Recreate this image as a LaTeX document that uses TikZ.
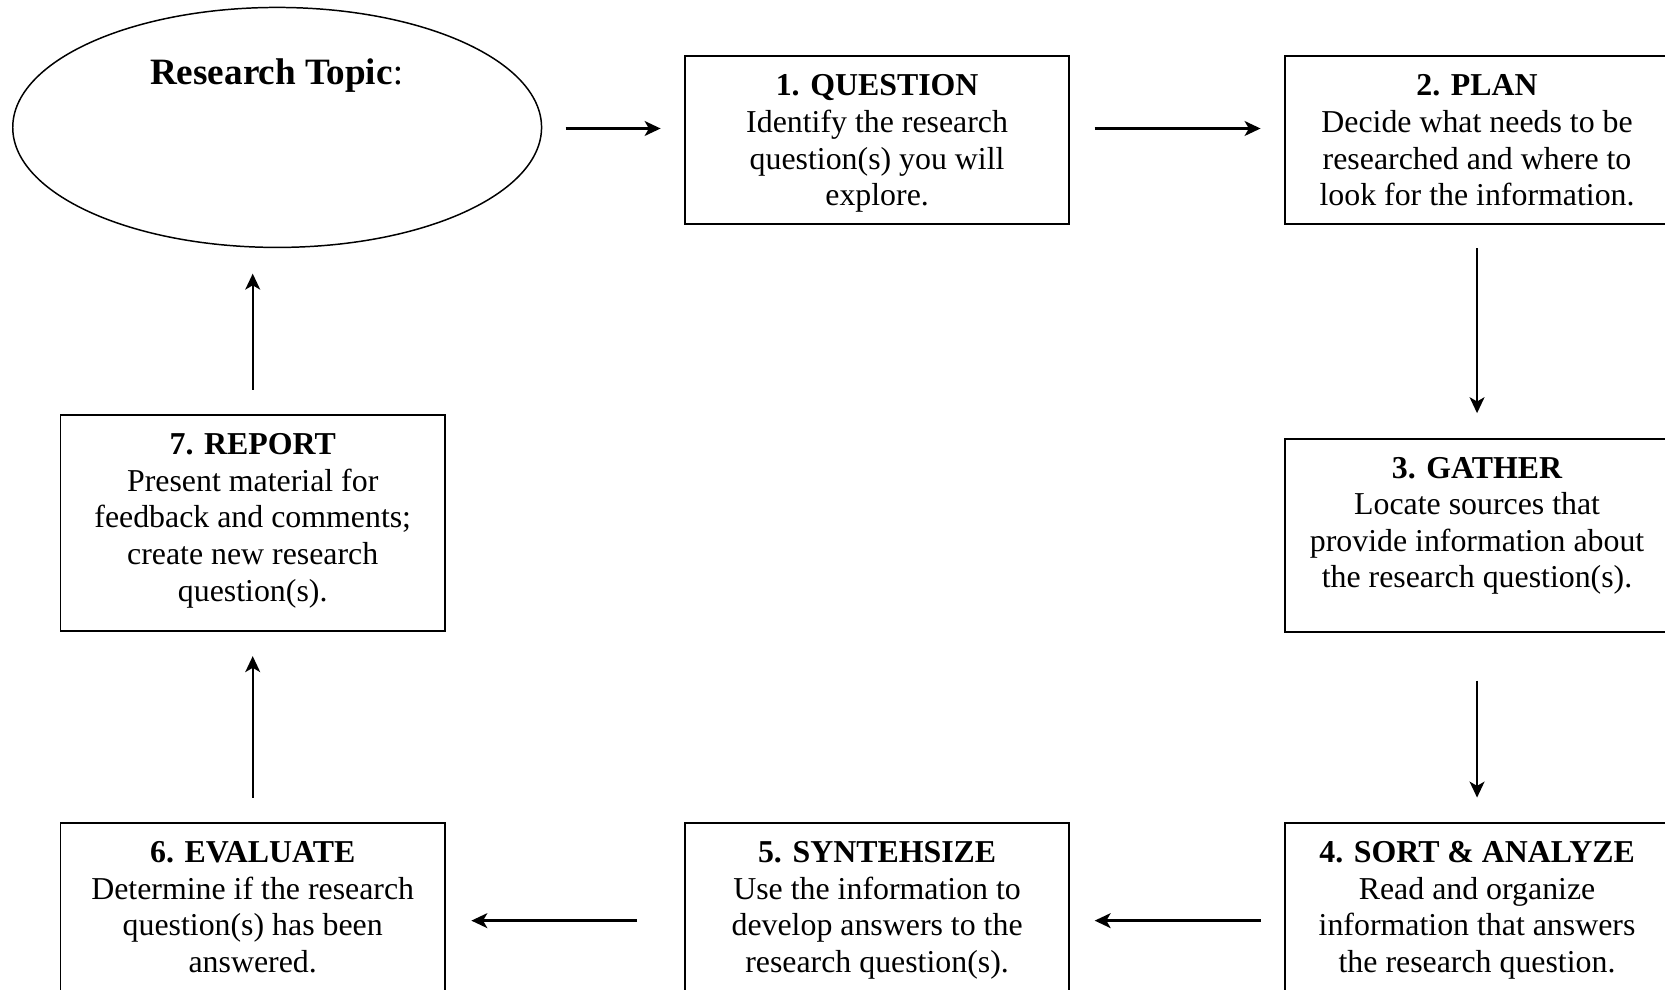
\documentclass[tikz,border=0pt]{standalone}
\usepackage{fontspec}
\setmainfont{Liberation Serif}
\usetikzlibrary{shapes.geometric,arrows.meta,calc}
\begin{document}
\begin{tikzpicture}[x=1pt,y=-1pt,
  stepbox/.style={draw, line width=1.8pt, rectangle, minimum width=362pt, inner sep=0pt},
  boxtext/.style={anchor=north, align=center, inner sep=0pt, font=\fontsize{30}{34.5}\selectfont},
  arr/.style={line width=2.2pt, -{Stealth[length=15pt,width=14pt,inset=4pt]}}]
\useasboundingbox (0,0) rectangle (1568,932);
\fill[white] (0,0) rectangle (1568,932);
\clip (0,0) rectangle (1568,932);

% topic ellipse
\node[ellipse, draw, line width=1.4pt, minimum width=498pt, minimum height=226pt, inner sep=0pt] (ell) at (261,120) {};
\node[anchor=base, inner sep=0pt, font=\fontsize{35}{40}\selectfont] (topic) at (260.5,80) {\textbf{Research Topic}:};

% boxes
\node[stepbox, minimum height=158pt] (b1) at (826,132) {};
\node[stepbox, minimum height=158pt] (b2) at (1391,132) {};
\node[stepbox, minimum height=182pt] (b3) at (1391,504) {};
\node[stepbox, minimum height=182pt] (b4) at (1391,866) {};
\node[stepbox, minimum height=182pt] (b5) at (826,866) {};
\node[stepbox, minimum height=182pt] (b6) at (238,866) {};
\node[stepbox, minimum height=203pt] (b7) at (238,492.5) {};

% texts
\node[boxtext] (t1) at ($(b1.north)+(0,18)$) {\textbf{1. QUESTION}\\Identify the research\\question(s) you will\\explore.};
\node[boxtext] (t2) at ($(b2.north)+(0,18)$) {\textbf{2. PLAN}\\Decide what needs to be\\researched and where to\\look for the information.};
\node[boxtext] (t3) at ($(b3.north)+(0,18)$) {\textbf{3. GATHER}\\Locate sources that\\provide information about\\the research question(s).};
\node[boxtext] (t4) at ($(b4.north)+(0,18)$) {\textbf{4. SORT \& ANALYZE}\\Read and organize\\information that answers\\the research question.};
\node[boxtext] (t5) at ($(b5.north)+(0,18)$) {\textbf{5. SYNTEHSIZE}\\Use the information to\\develop answers to the\\research question(s).};
\node[boxtext] (t6) at ($(b6.north)+(0,18)$) {\textbf{6. EVALUATE}\\Determine if the research\\question(s) has been\\answered.};
\node[boxtext] (t7) at ($(b7.north)+(0,18)$) {\textbf{7. REPORT}\\Present material for\\feedback and comments;\\create new research\\question(s).};

% arrows
\draw[arr] ($(ell.east)+(22,1)$) -- ($(b1.west)+(-22,-11)$);
\draw[arr] ($(b1.east)+(23,-11)$) -- ($(b2.west)+(-22,-11)$);
\draw[arr] ($(b2.south)+(0,22)$) -- ($(b3.north)+(0,-23)$);
\draw[arr] ($(b3.south)+(0,45)$) -- ($(b4.north)+(0,-23)$);
\draw[arr] ($(b4.west)+(-22,1)$) -- ($(b5.east)+(23,1)$);
\draw[arr] ($(b5.west)+(-44,1)$) -- ($(b6.east)+(24,1)$);
\draw[arr] ($(b6.north)+(0,-23)$) -- ($(b7.south)+(0,23)$);
\draw[arr] ($(b7.north)+(0,-23)$) -- ($(ell.south)+(-23,24)$);
\end{tikzpicture}
\end{document}
